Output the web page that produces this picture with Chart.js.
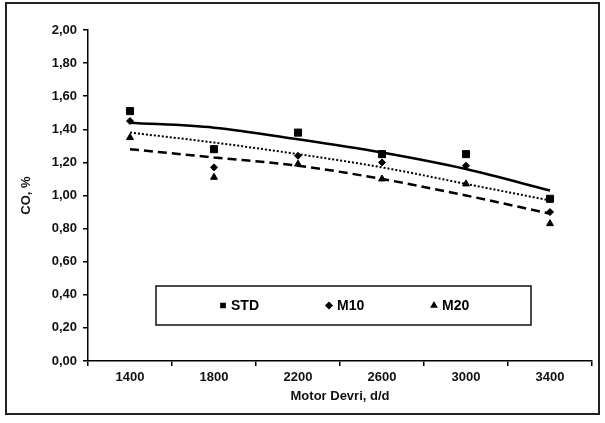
<!DOCTYPE html>
<html lang="tr">
<head>
    <meta charset="UTF-8">
    <title>CO, % - Motor Devri</title>
    <script src="https://cdn.jsdelivr.net/npm/chart.js"></script>
    <style>
        html, body {
            margin: 0;
            padding: 0;
            background: #ffffff;
        }
        #wrap {
            width: 605px;
            height: 423px;
        }
    </style>
</head>
<body>
    <div id="wrap"><canvas id="coChart"></canvas></div>

    <script>
        // Veriler
        const rpmLabels = ['1400', '1800', '2200', '2600', '3000', '3400'];

        const stdValues = [1.51, 1.28, 1.38, 1.25, 1.25, 0.98];
        const m10Values = [1.45, 1.17, 1.24, 1.20, 1.18, 0.90];
        const m20Values = [1.35, 1.11, 1.19, 1.10, 1.07, 0.83];

        // Egilim cizgileri
        const stdTrend = [1.44, 1.41, 1.34, 1.26, 1.16, 1.03];
        const m10Trend = [1.38, 1.32, 1.25, 1.17, 1.07, 0.97];
        const m20Trend = [1.28, 1.23, 1.18, 1.10, 1.00, 0.89];

        const seriesNames = ['STD', 'M10', 'M20'];

        const FONT = "'Liberation Sans', Arial, sans-serif";

        // dis cerceve
        const framePlugin = {
            id: 'frame',
            beforeDraw(chart) {
                const ctx = chart.ctx;
                ctx.save();
                ctx.fillStyle = '#ffffff';
                ctx.fillRect(0, 0, chart.width, chart.height);
                ctx.strokeStyle = '#222222';
                ctx.lineWidth = 2;
                ctx.strokeRect(6, 3, 593, 411);
                ctx.restore();
            }
        };

        // grafik icindeki lejant kutusu
        const boxLegendPlugin = {
            id: 'boxLegend',
            afterDraw(chart) {
                const ctx = chart.ctx;
                const box = {x: 156, y: 286, w: 375, h: 39};
                const itemX = [223, 329, 434];
                ctx.save();
                ctx.strokeStyle = '#111111';
                ctx.lineWidth = 1.5;
                ctx.strokeRect(box.x, box.y, box.w, box.h);
                const cy = box.y + box.h / 2;
                ctx.font = 'bold 14px ' + FONT;
                ctx.textBaseline = 'middle';
                ctx.textAlign = 'left';
                for (let i = 0; i < 3; i++) {
                    const ds = chart.data.datasets[i];
                    ctx.fillStyle = '#000000';
                    ctx.strokeStyle = '#000000';
                    Chart.helpers.drawPoint(ctx, {
                        pointStyle: ds.pointStyle,
                        radius: 3,
                        rotation: 0,
                        borderWidth: 1
                    }, itemX[i], cy);
                    ctx.fillStyle = '#000000';
                    ctx.fillText(seriesNames[i], itemX[i] + 8, cy + 1);
                }
                ctx.restore();
            }
        };

        const ctx = document.getElementById('coChart').getContext('2d');

        const chart = new Chart(ctx, {
            type: 'line',
            data: {
                labels: rpmLabels,
                datasets: [
                    {
                        label: 'STD',
                        data: stdValues,
                        showLine: false,
                        pointStyle: 'rect',
                        pointRadius: 5,
                        backgroundColor: '#000000',
                        borderColor: '#000000',
                        borderWidth: 1
                    },
                    {
                        label: 'M10',
                        data: m10Values,
                        showLine: false,
                        pointStyle: 'rectRot',
                        pointRadius: 3.5,
                        backgroundColor: '#000000',
                        borderColor: '#000000',
                        borderWidth: 1
                    },
                    {
                        label: 'M20',
                        data: m20Values,
                        showLine: false,
                        pointStyle: 'triangle',
                        pointRadius: 4,
                        backgroundColor: '#000000',
                        borderColor: '#000000',
                        borderWidth: 1
                    },
                    {
                        label: 'STD trend',
                        data: stdTrend,
                        pointRadius: 0,
                        borderColor: '#000000',
                        borderWidth: 2.5,
                        cubicInterpolationMode: 'monotone',
                        fill: false
                    },
                    {
                        label: 'M10 trend',
                        data: m10Trend,
                        pointRadius: 0,
                        borderColor: '#000000',
                        borderWidth: 2,
                        borderDash: [2, 2],
                        cubicInterpolationMode: 'monotone',
                        fill: false
                    },
                    {
                        label: 'M20 trend',
                        data: m20Trend,
                        pointRadius: 0,
                        borderColor: '#000000',
                        borderWidth: 2.5,
                        borderDash: [9, 5],
                        cubicInterpolationMode: 'monotone',
                        fill: false
                    }
                ]
            },
            options: {
                responsive: true,
                maintainAspectRatio: false,
                animation: false,
                layout: {
                    padding: {left: 0, top: 30, right: 13, bottom: 0}
                },
                plugins: {
                    legend: {display: false},
                    tooltip: {enabled: false}
                },
                scales: {
                    x: {
                        type: 'category',
                        offset: true,
                        afterFit: function (scale) {
                            scale.height = 62;
                        },
                        grid: {
                            offset: true,
                            drawOnChartArea: false,
                            drawTicks: true,
                            tickLength: 5,
                            color: '#000000',
                            lineWidth: 1.5
                        },
                        border: {color: '#000000', width: 1.5},
                        ticks: {
                            color: '#111111',
                            padding: 4,
                            maxRotation: 0,
                            font: {family: FONT, size: 13, weight: 'bold'}
                        },
                        title: {
                            display: true,
                            text: 'Motor Devri, d/d',
                            color: '#111111',
                            padding: {top: 2, bottom: 19},
                            font: {family: FONT, size: 13, weight: 'bold'}
                        }
                    },
                    y: {
                        min: 0,
                        max: 2,
                        afterFit: function (scale) {
                            scale.width = 88;
                        },
                        grid: {
                            drawOnChartArea: false,
                            drawTicks: true,
                            tickLength: 5,
                            color: '#000000',
                            lineWidth: 1.5
                        },
                        border: {color: '#000000', width: 1.5},
                        ticks: {
                            stepSize: 0.2,
                            color: '#111111',
                            padding: 6,
                            font: {family: FONT, size: 13, weight: 'bold'},
                            callback: function (value) {
                                return value.toFixed(2).replace('.', ',');
                            }
                        },
                        title: {
                            display: true,
                            text: 'CO, %',
                            color: '#111111',
                            padding: {top: 19, bottom: 0},
                            font: {family: FONT, size: 13, weight: 'bold'}
                        }
                    }
                }
            },
            plugins: [framePlugin, boxLegendPlugin]
        });
    </script>
</body>
</html>
